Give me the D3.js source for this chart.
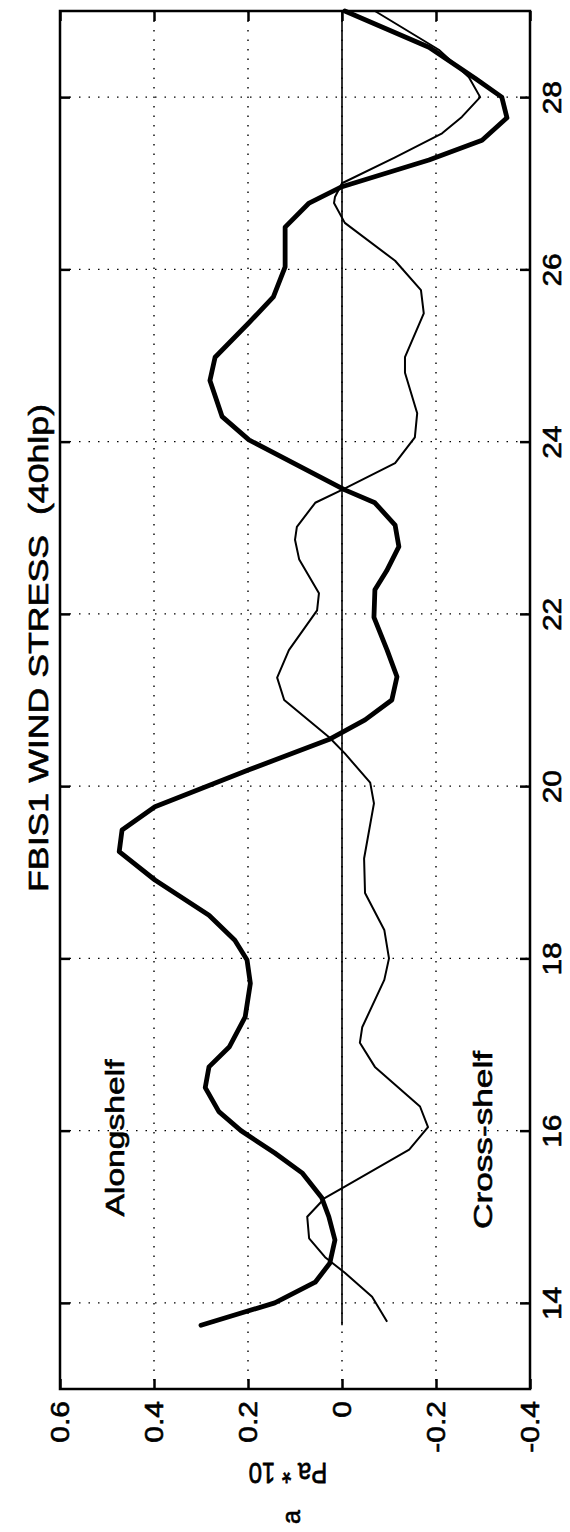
<!DOCTYPE html>
<html>
<head>
<meta charset="utf-8">
<script src="https://cdn.jsdelivr.net/npm/d3@7"></script>
<style>
body { margin: 0; background: #fff; }
text { font-family: "Liberation Sans", Arial, sans-serif; fill: #000; stroke: #000; stroke-width: 0.6px; }
</style>
</head>
<body>
<div id="chart"></div>
<script>
// data (day of month vs stress in Pa*10)
var alongDays = [13.74, 14.0, 14.24, 14.46, 14.73, 15.0, 15.22, 15.51, 15.74, 16.0, 16.22, 16.5, 16.74, 16.97,
    17.32, 17.71, 17.98, 18.21, 18.5, 18.91, 19.24, 19.49, 19.76, 20.19, 20.54, 20.77, 21.0, 21.27, 21.58,
    21.96, 22.28, 22.5, 22.78, 23.03, 23.29, 23.44, 24.02, 24.29, 24.71, 24.98, 25.38, 25.68, 26.03, 26.49,
    26.77, 26.96, 27.27, 27.5, 27.76, 28.0, 28.22, 28.58, 29.0];
var alongValues = [0.30, 0.143, 0.057, 0.026, 0.015, 0.028, 0.043, 0.085, 0.143, 0.215, 0.262, 0.291, 0.283, 0.24,
    0.206, 0.195, 0.202, 0.228, 0.283, 0.398, 0.474, 0.468, 0.398, 0.198, 0.028, -0.049, -0.106, -0.117, -0.096,
    -0.068, -0.07, -0.095, -0.121, -0.113, -0.07, -0.006, 0.198, 0.255, 0.281, 0.27, 0.198, 0.146, 0.121, 0.121,
    0.07, 0.0, -0.185, -0.298, -0.351, -0.34, -0.283, -0.185, -0.006];

var crossDays = [13.78, 14.07, 14.35, 14.53, 14.75, 15.0, 15.22, 15.35, 15.78, 16.04, 16.28, 16.74, 17.02, 17.2,
    17.75, 18.0, 18.33, 18.76, 19.16, 19.8, 20.04, 20.38, 20.57, 21.0, 21.26, 21.58, 22.04, 22.24, 22.63,
    22.86, 23.01, 23.29, 23.44, 23.75, 24.05, 24.33, 24.8, 24.98, 25.49, 25.76, 26.1, 26.54, 26.77, 26.84,
    27.0, 27.3, 27.58, 27.77, 28.0, 28.23, 28.55, 29.0];
var crossValues = [-0.096, -0.064, -0.006, 0.036, 0.07, 0.074, 0.036, -0.006, -0.143, -0.183, -0.166, -0.07, -0.038, -0.043,
    -0.09, -0.10, -0.09, -0.049, -0.047, -0.068, -0.06, -0.006, 0.028, 0.123, 0.138, 0.113, 0.053, 0.049, 0.091,
    0.10, 0.096, 0.057, 0.0, -0.113, -0.155, -0.16, -0.134, -0.134, -0.174, -0.168, -0.113, -0.006, 0.017, 0.015,
    0.0, -0.113, -0.213, -0.255, -0.294, -0.27, -0.206, -0.07];

var dayTicks = [14, 16, 18, 20, 22, 24, 26, 28];
var dayTickLabels = ["14", "16", "18", "20", "22", "24", "26", "28"];
var valueTicks = [0.6, 0.4, 0.2, 0, -0.2, -0.4];
var valueTickLabels = ["0.6", "0.4", "0.2", "0", "-0.2", "-0.4"];
var gridValues = [0.4, 0.2, 0, -0.2];

var width = 570, height = 1532;
var boxLeft = 60, boxRight = 530, boxTop = 11, boxBottom = 1389;

var t_scale = d3.scaleLinear().domain([13, 29]).range([boxBottom, boxTop]);
var v_scale = d3.scaleLinear().domain([0.6, -0.4]).range([boxLeft, boxRight]);

var svg = d3.select("#chart").append("svg")
    .attr("width", width)
    .attr("height", height)
    .style("background", "white");

// dotted grid
svg.append("g").selectAll("line").data(dayTicks).enter().append("line")
    .attr("x1", boxLeft).attr("x2", boxRight)
    .attr("y1", function(d) { return t_scale(d); })
    .attr("y2", function(d) { return t_scale(d); })
    .attr("stroke", "#000").attr("stroke-width", 1.4).attr("stroke-dasharray", "1.5,8");
svg.append("g").selectAll("line").data(gridValues).enter().append("line")
    .attr("x1", function(d) { return v_scale(d); })
    .attr("x2", function(d) { return v_scale(d); })
    .attr("y1", boxTop).attr("y2", boxBottom)
    .attr("stroke", "#000").attr("stroke-width", 1.4).attr("stroke-dasharray", "1.5,8");

// zero line over the data span
svg.append("line")
    .attr("x1", v_scale(0)).attr("x2", v_scale(0))
    .attr("y1", t_scale(alongDays[0])).attr("y2", t_scale(29))
    .attr("stroke", "#000").attr("stroke-width", 1.6);

function tidy(g) {
    g.attr("font-family", null).attr("font-size", 25);
    g.select(".domain").remove();
    g.selectAll(".tick line").attr("stroke", "#000").attr("stroke-width", 2.5);
}

// right: day ticks + labels
svg.append("g").attr("transform", "translate(" + boxRight + ",0)")
    .call(d3.axisRight(t_scale).tickValues(dayTicks).tickSizeInner(-10).tickSizeOuter(0)
        .tickFormat(function(d, i) { return dayTickLabels[i]; }))
    .call(tidy)
    .call(function(g) {
        g.selectAll(".tick text").attr("x", null).attr("fill", "#000")
            .attr("text-anchor", "middle").attr("dy", "0.35em")
            .attr("transform", "translate(22,0) scale(1,1.2) rotate(-90)");
    });

// left: ticks only
svg.append("g").attr("transform", "translate(" + boxLeft + ",0)")
    .call(d3.axisRight(t_scale).tickValues(dayTicks).tickSize(10).tickFormat(""))
    .call(tidy);

// bottom: value ticks + labels
svg.append("g").attr("transform", "translate(0," + boxBottom + ")")
    .call(d3.axisBottom(v_scale).tickValues(valueTicks).tickSizeInner(-10).tickSizeOuter(0)
        .tickFormat(function(d, i) { return valueTickLabels[i]; }))
    .call(tidy)
    .call(function(g) {
        g.selectAll(".tick text").attr("y", null).attr("fill", "#000")
            .attr("text-anchor", "end").attr("dy", "0.35em")
            .attr("transform", "translate(0,12) scale(1,1.2) rotate(-90)");
    });

// top: ticks only
svg.append("g").attr("transform", "translate(0," + boxTop + ")")
    .call(d3.axisTop(v_scale).tickValues(valueTicks).tickSizeInner(-10).tickSizeOuter(0).tickFormat(""))
    .call(tidy);

// frame
svg.append("rect")
    .attr("x", boxLeft).attr("y", boxTop)
    .attr("width", boxRight - boxLeft).attr("height", boxBottom - boxTop)
    .attr("fill", "none").attr("stroke", "#000").attr("stroke-width", 2.5);

var line = d3.line()
    .x(function(d) { return v_scale(d[1]); })
    .y(function(d) { return t_scale(d[0]); });

svg.append("path")
    .attr("d", line(d3.zip(crossDays, crossValues)))
    .attr("fill", "none").attr("stroke", "#000").attr("stroke-width", 2)
    .attr("stroke-linejoin", "round");

svg.append("path")
    .attr("d", line(d3.zip(alongDays, alongValues)))
    .attr("fill", "none").attr("stroke", "#000").attr("stroke-width", 4.8)
    .attr("stroke-linejoin", "round").attr("stroke-linecap", "round");

// texts
svg.append("text")
    .attr("transform", "translate(39,648) rotate(-90)")
    .attr("text-anchor", "middle").attr("dy", "0.35em")
    .attr("font-size", 27)
    .attr("textLength", 488).attr("lengthAdjust", "spacingAndGlyphs")
    .style("white-space", "pre")
    .text("FBIS1 WIND STRESS  (40hlp)");

svg.append("text")
    .attr("transform", "translate(115,1138) rotate(-90)")
    .attr("text-anchor", "middle").attr("dy", "0.35em")
    .attr("font-size", 25)
    .attr("textLength", 157).attr("lengthAdjust", "spacingAndGlyphs")
    .text("Alongshelf");

svg.append("text")
    .attr("transform", "translate(483,1140) rotate(-90)")
    .attr("text-anchor", "middle").attr("dy", "0.35em")
    .attr("font-size", 25)
    .attr("textLength", 178).attr("lengthAdjust", "spacingAndGlyphs")
    .text("Cross-shelf");

svg.append("text")
    .attr("transform", "translate(288,1474) scale(1,1.25) rotate(180)")
    .attr("text-anchor", "middle").attr("dy", "0.35em")
    .attr("font-size", 24)
    .text("Pa * 10");

svg.append("text")
    .attr("transform", "translate(291,1517) rotate(-90)")
    .attr("text-anchor", "middle").attr("dy", "0.35em")
    .attr("font-size", 25)
    .text("a");
</script>
</body>
</html>
